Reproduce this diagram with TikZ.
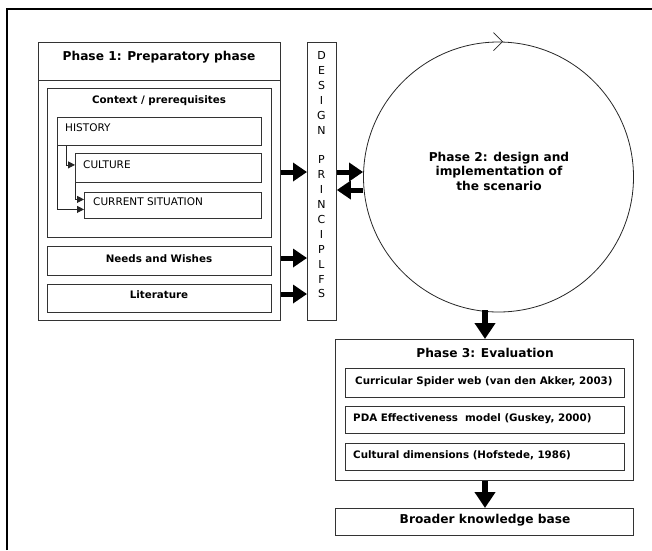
\documentclass[tikz,border=0pt]{standalone}
\usepackage{fontspec}
\setmainfont{DejaVu Sans}
\usetikzlibrary{arrows.meta,calc}

\tikzset{
  box/.style={draw=black!80, line width=0.8pt, rectangle, inner sep=0pt},
  boldtext/.style={font=\bfseries\fontsize{10.3}{12}\selectfont, inner sep=0pt},
  plaintext/.style={font=\fontsize{10.5}{12}\selectfont, inner sep=0pt},
  bigtext/.style={font=\bfseries\fontsize{12.2}{15}\selectfont, inner sep=0pt},
  blockarrow/.style={line width=5pt, -{Triangle[width=18pt,length=14pt]}},
  downarrow/.style={line width=6pt, -{Triangle[width=20pt,length=16pt]}},
  thinarrow/.style={draw=black!85, line width=0.8pt, -{Triangle[width=7pt,length=7pt]}},
}

\begin{document}
\begin{tikzpicture}[x=1pt,y=-1pt]
\useasboundingbox (0,0) rectangle (652,550);

% outer frame (top and left edges)
\draw[line width=2pt] (7,550) -- (7,9) -- (652,9);

% ---------- Phase 1 ----------
\node[box, minimum width=242pt, minimum height=38pt, anchor=north west] (p1title) at (38,42) {};
\node[box, minimum width=242pt, minimum height=240pt, anchor=north west] (p1body) at (38,80) {};
\node[bigtext, anchor=base] (p1label) at (159,60) {Phase 1: Preparatory phase};

\node[box, minimum width=224pt, minimum height=149pt, anchor=north west] (ctx) at (47,88) {};
\node[boldtext, anchor=base] (ctxlabel) at (159,103) {Context / prerequisites};

\node[box, minimum width=204pt, minimum height=28pt, anchor=north west] (hist) at (57,117) {};
\node[plaintext, anchor=base west] (histlabel) at (65,131) {HISTORY};

\node[box, minimum width=186pt, minimum height=29pt, anchor=north west] (cult) at (75,153) {};
\node[plaintext, anchor=base west] (cultlabel) at (83,168) {CULTURE};

\node[box, minimum width=177pt, minimum height=26pt, anchor=north west] (curr) at (84,192) {};
\node[plaintext, anchor=base west] (currlabel) at (93,205) {CURRENT SITUATION};

\node[box, minimum width=224pt, minimum height=29pt, anchor=north west] (needs) at (47,246) {};
\node[boldtext, anchor=base] (needslabel) at (159,262) {Needs and Wishes};

\node[box, minimum width=224pt, minimum height=28pt, anchor=north west] (lit) at (47,284) {};
\node[boldtext, anchor=base] (litlabel) at (159,298) {Literature};

% links between the context items
\coordinate (h1) at ($(hist.south west)+(9,0)$);
\coordinate (h2) at (hist.south west);
\draw[thinarrow] (h1) |- ($(cult.west)+(0,-3)$);
\draw[thinarrow] (h2) |- ($(curr.west)+(0,4)$);
\draw[thinarrow] (cult.south west) |- ($(curr.west)+(0,-6)$);

% ---------- Design principles ----------
\node[box, minimum width=29pt, minimum height=278pt, anchor=north west] (dp) at (307,42) {};
\foreach \ch [count=\i from 0] in {D,E,S,I,G,N,{},P,R,I,N,C,I,P,L,F,S}
  \node[font=\fontsize{11}{12}\selectfont, inner sep=0pt, anchor=base] (dp\i) at (321.5,59.5+14.9*\i) {\ch};

% ---------- Phase 2 ----------
\node[draw=black!85, line width=0.8pt, circle, minimum size=270pt, inner sep=0pt] (p2) at (498.5,177) {};
\node[font=\bfseries\fontsize{12.2}{14.5}\selectfont, align=center, inner sep=0pt, anchor=base] (p2label) at (499,190)
  {Phase 2: design and\\implementation of\\the scenario};
\draw[black!85, line width=0.8pt] ($(p2.north)+(-5,-9)$) -- ($(p2.north)+(4,0)$) -- ($(p2.north)+(-5,9)$);

% ---------- Phase 3 ----------
\node[box, minimum width=298pt, minimum height=141pt, anchor=north west] (p3) at (335,339) {};
\node[bigtext, anchor=base] (p3label) at (485,357) {Phase 3: Evaluation};

\node[box, minimum width=279pt, minimum height=29pt, anchor=north west] (ev1) at (345,368) {};
\node[boldtext, anchor=base west] (ev1label) at (355,384) {Curricular Spider web (van den Akker, 2003)};

\node[box, minimum width=279pt, minimum height=27pt, anchor=north west] (ev2) at (345,406) {};
\node[boldtext, anchor=base west] (ev2label) at (353,421) {PDA Effectiveness\ \ model (Guskey, 2000)};

\node[box, minimum width=279pt, minimum height=27pt, anchor=north west] (ev3) at (345,443) {};
\node[boldtext, anchor=base west] (ev3label) at (353,458) {Cultural dimensions (Hofstede, 1986)};

\node[box, minimum width=298pt, minimum height=27pt, anchor=north west] (kb) at (335,508) {};
\node[bigtext, anchor=base] (kblabel) at (485,523) {Broader knowledge base};

% ---------- block arrows ----------
\draw[blockarrow] (p1body.east |- 0,172) -- (dp.west |- 0,172);
\draw[blockarrow] (p1body.east |- 0,258) -- (dp.west |- 0,258);
\draw[blockarrow] (p1body.east |- 0,294) -- (dp.west |- 0,294);
\draw[blockarrow] (dp.east |- 0,172) -- (p2.west |- 0,172);
\draw[blockarrow] (p2.west |- 0,190) -- (dp.east |- 0,190);
\draw[downarrow] (485,310) -- (p3.north -| 485,0);
\draw[downarrow] (p3.south -| 485,0) -- (kb.north -| 485,0);
\end{tikzpicture}
\end{document}
